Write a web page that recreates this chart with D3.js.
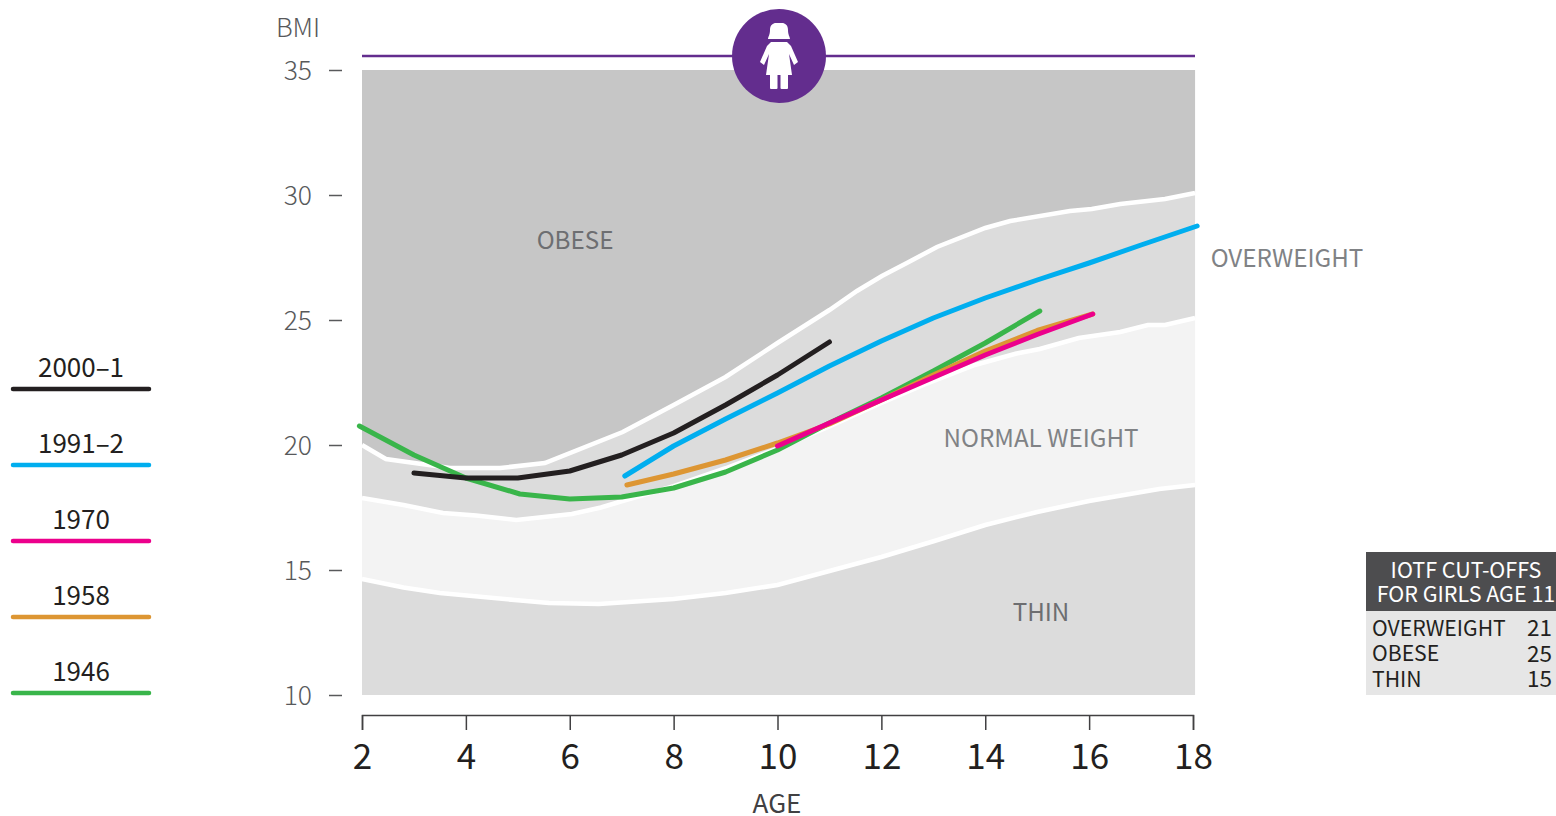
<!DOCTYPE html>
<html>
<head>
<meta charset="utf-8">
<style>
  html, body { margin: 0; padding: 0; background: #fff; }
  svg { display: block; }
  text { font-family: "Noto Sans CJK JP", "Noto Sans", sans-serif; }
</style>
</head>
<body>
<div id="chart"></div>
<script src="https://d3js.org/d3.v7.min.js"></script>
<script>
// cut-off curves, [age, bmi]
var obeseCut = [[2,20],[2.46,19.44],[3.7,19.08],[4.66,19.08],[5.52,19.28],[7.02,20.52],[8,21.6],[9,22.72],[10,24.08],[11,25.4],[11.53,26.16],[12.01,26.76],[12.49,27.28],[13.07,27.92],[14,28.68],[14.48,28.96],[15.63,29.36],[16.05,29.44],[16.6,29.64],[17.46,29.84],[18.04,30.08]];
var overweightCut = [[2,17.88],[2.8,17.6],[3.56,17.28],[4.2,17.18],[4.97,17],[6.04,17.24],[6.6,17.5],[7,17.75],[8,18.35],[9,19.07],[10,19.86],[11,20.74],[12,21.68],[12.81,22.4],[13.8,23.2],[14.6,23.66],[15.05,23.84],[15.8,24.28],[16.6,24.52],[17.13,24.8],[17.46,24.8],[18.04,25.08]];
var thinCut = [[2,14.64],[2.8,14.3],[3.5,14.08],[4.94,13.8],[5.6,13.68],[6.56,13.64],[8,13.84],[9,14.08],[10,14.4],[11,14.96],[12,15.52],[13.02,16.16],[14,16.8],[15,17.32],[16,17.76],[17.35,18.24],[18.04,18.4]];

// cohort lines, back to front
var line1946 = [[1.95,20.76],[3,19.6],[4,18.68],[5.04,18.04],[6,17.84],[7,17.92],[8,18.28],[9,18.92],[10,19.8],[11,20.88],[12,21.88],[13,22.96],[14,24.08],[15.05,25.36]];
var line1958 = [[7.1,18.4],[8,18.84],[9,19.4],[10,20.08],[11,20.84],[12,21.8],[13,22.8],[14,23.76],[15,24.58],[16.07,25.24]];
var line1970 = [[10,19.96],[11,20.88],[12,21.8],[13,22.7],[14,23.6],[15,24.42],[16.07,25.24]];
var line1991 = [[7.06,18.76],[8,19.96],[9,21.04],[10,22.08],[11,23.16],[12,24.16],[13,25.08],[14,25.88],[15,26.6],[16,27.28],[17,28],[18.08,28.76]];
var line2000 = [[3,18.88],[4,18.68],[5,18.68],[6,18.96],[7,19.6],[8,20.48],[9,21.6],[10,22.8],[11,24.12]];

var legendLabels = ["2000–1", "1991–2", "1970", "1958", "1946"];
var legendColors = ["#231f20", "#00aeef", "#ec008c", "#dd9633", "#39b54a"];
var xTicks = [2, 4, 6, 8, 10, 12, 14, 16, 18];
var yTicks = [10, 15, 20, 25, 30, 35];
var tableRows = ["OVERWEIGHT", "OBESE", "THIN"];
var tableValues = ["21", "25", "15"];

var width = 1556, height = 816;
var svg = d3.select("#chart").append("svg")
    .attr("width", width)
    .attr("height", height);

var x = d3.scaleLinear().domain([2, 18]).range([362, 1193]);
var y = d3.scaleLinear().domain([10, 35]).range([695, 70]);

var maxAge = 18.04;
var line = d3.line()
    .x(function(d) { return x(d[0]); })
    .y(function(d) { return y(d[1]); });

// bands
function band(top, bottom, color) {
  var pts = top.concat(bottom.slice().reverse());
  svg.append("path").attr("d", line(pts) + "Z").attr("fill", color);
}
var plotTop = [[2, 35], [maxAge, 35]];
var plotBottom = [[2, 10], [maxAge, 10]];
band(plotTop, obeseCut, "#c6c6c6");
band(obeseCut, overweightCut, "#dcdcdc");
band(overweightCut, thinCut, "#f3f3f3");
band(thinCut, plotBottom, "#dcdcdc");

[obeseCut, overweightCut, thinCut].forEach(function(c) {
  svg.append("path").attr("d", line(c))
      .attr("fill", "none")
      .attr("stroke", "#fff")
      .attr("stroke-width", 4.5);
});

// band labels
var bandLabels = [
  {t: "OBESE", a: 575, b: 240, c: "#6d6e71"},
  {t: "OVERWEIGHT", a: 1287, b: 258, c: "#808285"},
  {t: "NORMAL WEIGHT", a: 1041, b: 438, c: "#808285"},
  {t: "THIN", a: 1041, b: 612, c: "#6d6e71"}
];
svg.selectAll(".band-label").data(bandLabels).enter().append("text")
    .attr("class", "band-label")
    .attr("x", function(d) { return d.a; })
    .attr("y", function(d) { return d.b; })
    .attr("dy", "0.36em")
    .attr("text-anchor", "middle")
    .attr("fill", function(d) { return d.c; })
    .style("font-size", "24.2px")
    .text(function(d) { return d.t; });

// cohort lines
var series = [
  {d: line1946, c: legendColors[4]},
  {d: line1958, c: legendColors[3]},
  {d: line1970, c: legendColors[2]},
  {d: line1991, c: legendColors[1]},
  {d: line2000, c: legendColors[0]}
];
svg.selectAll(".cohort").data(series).enter().append("path")
    .attr("class", "cohort")
    .attr("d", function(d) { return line(d.d); })
    .attr("fill", "none")
    .attr("stroke", function(d) { return d.c; })
    .attr("stroke-width", 5)
    .attr("stroke-linecap", "round")
    .attr("stroke-linejoin", "round");

// y axis
var yAxis = svg.append("g")
    .attr("transform", "translate(342,0)")
    .call(d3.axisLeft(y).tickValues(yTicks).tickSize(13).tickPadding(17));
yAxis.select(".domain").remove();
yAxis.selectAll("line").attr("stroke", "#58595b").attr("stroke-width", 1.5);
yAxis.selectAll("text").attr("fill", "#58595b").attr("dy", "0.36em")
    .style("font-size", "26.5px")
    .style("font-weight", 300)
    .style("font-family", '"Noto Sans CJK JP"');

svg.append("text")
    .attr("x", 298).attr("y", 28).attr("dy", "0.36em")
    .attr("text-anchor", "middle").attr("fill", "#58595b")
    .style("font-size", "26px")
    .style("font-weight", 300)
    .text("BMI");

// x axis
var xAxis = svg.append("g")
    .attr("transform", "translate(0,715)")
    .call(d3.axisBottom(x).tickValues(xTicks).tickSize(15).tickSizeOuter(15).tickPadding(14));
xAxis.select(".domain").attr("stroke", "#414042").attr("stroke-width", 1.5);
xAxis.selectAll("line").attr("stroke", "#414042").attr("stroke-width", 1.5);
xAxis.selectAll("text").attr("fill", "#231f20").style("font-size", "35px")
    .style("font-family", '"Noto Sans CJK JP"');

svg.append("text")
    .attr("x", 777).attr("y", 804).attr("dy", "0.36em")
    .attr("text-anchor", "middle").attr("fill", "#414042")
    .style("font-size", "26px")
    .text("AGE");

// purple rule + badge
svg.append("line")
    .attr("x1", 362).attr("x2", 1195).attr("y1", 56).attr("y2", 56)
    .attr("stroke", "#632d8e").attr("stroke-width", 2.5);
svg.append("circle").attr("cx", 779).attr("cy", 56).attr("r", 47).attr("fill", "#632d8e");

var girl = svg.append("g").attr("transform", "translate(779,0)").attr("fill", "#fff");
girl.append("path").attr("d", "M-11,39 C-11,37 -9,35 -9,30 C-9,25 -6,23 -3,23 L3,23 C6,23 9,25 9,30 C9,35 11,37 11,39 Z");
girl.append("path").attr("d", "M-8,42 L8,42 L12,46 L19,62 L15,65 L10,54 L13,75 L-13,75 L-10,54 L-15,65 L-19,62 L-12,46 Z");
girl.append("rect").attr("x", -9).attr("y", 72).attr("width", 7.5).attr("height", 17).attr("rx", 1);
girl.append("rect").attr("x", 1.5).attr("y", 72).attr("width", 7.5).attr("height", 17).attr("rx", 1);

// legend
var legend = svg.selectAll(".legend").data(legendLabels).enter().append("g")
    .attr("class", "legend")
    .attr("transform", function(d, i) { return "translate(0," + (389 + i * 76) + ")"; });
legend.append("line")
    .attr("x1", 13).attr("x2", 149)
    .attr("stroke", function(d, i) { return legendColors[i]; })
    .attr("stroke-width", 4.5)
    .attr("stroke-linecap", "round");
legend.append("text")
    .attr("x", 81).attr("y", -21).attr("dy", "0.36em")
    .attr("text-anchor", "middle").attr("fill", "#231f20")
    .style("font-size", "26px")
    .text(function(d) { return d; });

// cut-off table
svg.append("rect").attr("x", 1366).attr("y", 552).attr("width", 190).attr("height", 59).attr("fill", "#4d4d4f");
svg.append("rect").attr("x", 1366).attr("y", 611).attr("width", 190).attr("height", 84).attr("fill", "#e6e6e6");
svg.append("text").attr("x", 1466).attr("y", 570).attr("dy", "0.36em")
    .attr("text-anchor", "middle").attr("fill", "#fff").style("font-size", "21.5px")
    .text("IOTF CUT-OFFS");
svg.append("text").attr("x", 1466).attr("y", 594).attr("dy", "0.36em")
    .attr("text-anchor", "middle").attr("fill", "#fff").style("font-size", "21.5px")
    .text("FOR GIRLS AGE 11");
tableRows.forEach(function(r, i) {
  svg.append("text").attr("x", 1372).attr("y", 628 + i * 25.5).attr("dy", "0.36em")
      .attr("fill", "#231f20").style("font-size", "21.2px").text(r);
  svg.append("text").attr("x", 1552).attr("y", 628 + i * 25.5).attr("dy", "0.36em")
      .attr("text-anchor", "end").attr("fill", "#231f20").style("font-size", "22.5px").text(tableValues[i]);
});
</script>
</body>
</html>
